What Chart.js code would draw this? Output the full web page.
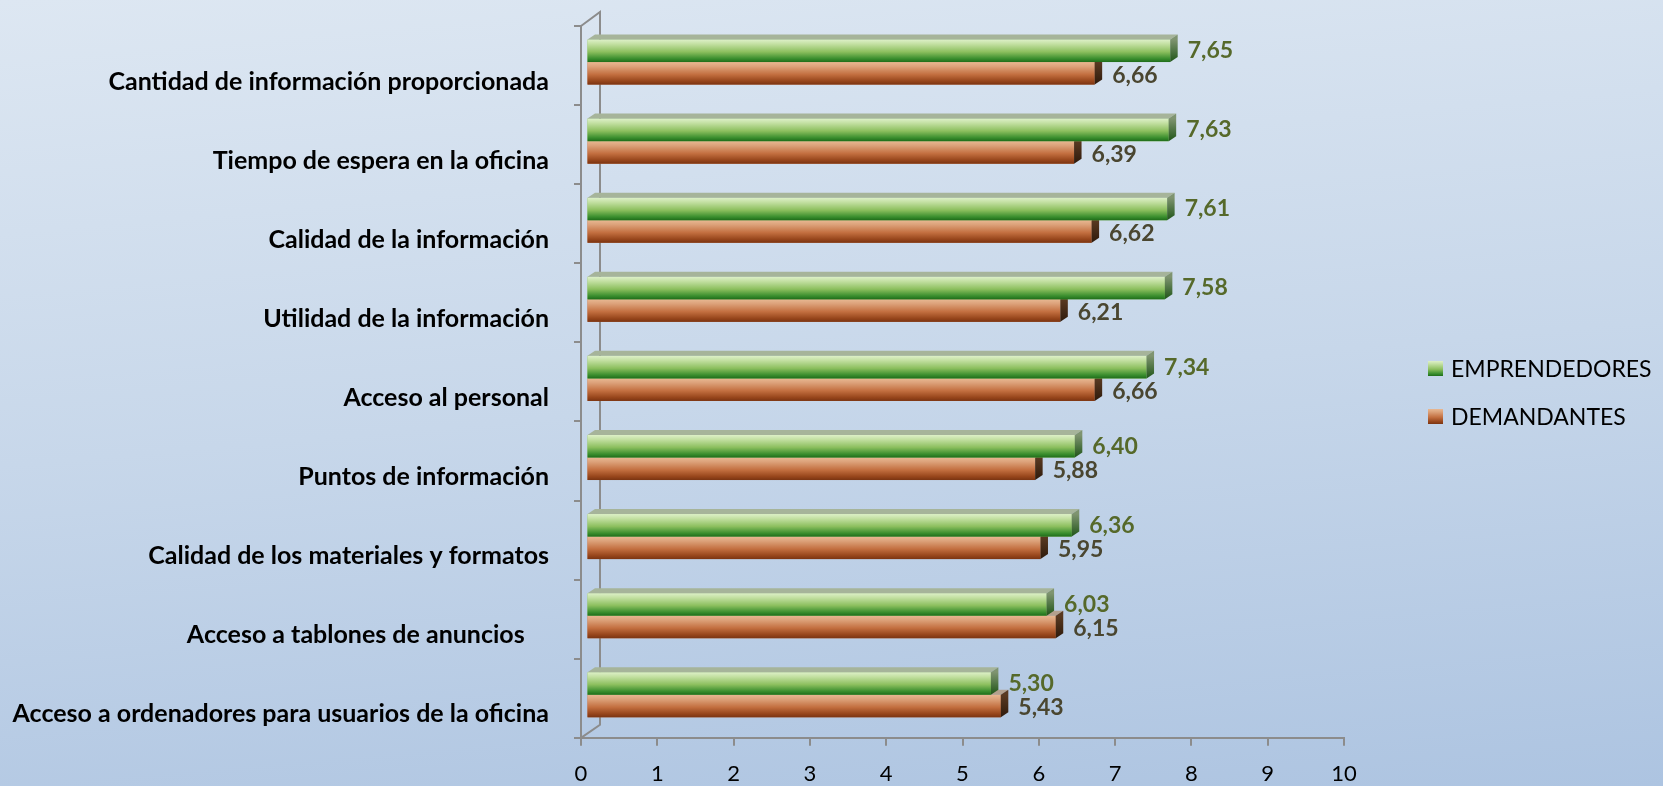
<!DOCTYPE html>
<html>
<head>
<meta charset="utf-8">
<script src="https://cdn.jsdelivr.net/npm/chart.js@4.4.1/dist/chart.umd.min.js"></script>
<style>
    body { margin: 0; }
    #wrap {
        position: relative;
        width: 1663px;
        height: 786px;
        background: linear-gradient(175deg, #dde7f2 0%, #c7d7ea 50%, #adc4e1 100%);
        font-family: Lato, sans-serif;
    }
    .legend-item { position: absolute; left: 1428px; height: 23px; font-size: 23px; line-height: 23px; color: #000; white-space: nowrap; }
    .legend-item .box { position: absolute; left: 0; top: 4px; width: 15px; height: 15px; }
    .legend-item .txt { position: absolute; left: 23px; top: 0; }
</style>
</head>
<body>
<div id="wrap">
    <canvas id="myChart"></canvas>
</div>
<script>
const categories = [
    "Cantidad de información proporcionada",
    "Tiempo de espera en la oficina",
    "Calidad de la información",
    "Utilidad de la información",
    "Acceso al personal",
    "Puntos de información",
    "Calidad de los materiales y formatos",
    "Acceso a tablones de anuncios    ",
    "Acceso a ordenadores para usuarios de la oficina"
];
const emprendedores = [7.65, 7.63, 7.61, 7.58, 7.34, 6.40, 6.36, 6.03, 5.30];
const demandantes = [6.66, 6.39, 6.62, 6.21, 6.66, 5.88, 5.95, 6.15, 5.43];
const seriesNames = ["EMPRENDEDORES", "DEMANDANTES"];

// colours for the fake 3D look
const looks = [
    {
        front: [[0, '#ddf0c8'], [0.2, '#c3e0a2'], [0.55, '#8cbf5e'], [0.85, '#3a8e2e'], [1, '#1f6d1a']],
        top: '#a6b49a',
        side: ['#7f9470', '#1f5518'],
        label: '#56692a'
    },
    {
        front: [[0, '#e8b892'], [0.2, '#dca179'], [0.55, '#c36f40'], [0.85, '#96451b'], [1, '#7a3412']],
        top: '#b3a08e',
        side: ['#5a3a22', '#2e1a0c'],
        label: '#4a4630'
    }
];

const shiftX = 5.5, shiftY = -3.5; // bars sit a bit inside the 3D wall
const depthX = 7.5, depthY = -5;
const axisGrey = '#8c8c8c';

function gradient(ctx, y0, y1, stops) {
    const g = ctx.createLinearGradient(0, y0, 0, y1);
    stops.forEach(s => g.addColorStop(s[0], s[1]));
    return g;
}

const bars3d = {
    id: 'bars3d',
    beforeDatasetsDraw(chart) {
        const ctx = chart.ctx;
        const a = chart.chartArea;
        // back wall of the 3D box
        ctx.save();
        ctx.strokeStyle = axisGrey;
        ctx.lineWidth = 2;
        ctx.beginPath();
        ctx.moveTo(a.left, a.top);
        ctx.lineTo(a.left + 19, a.top - 14);
        ctx.lineTo(a.left + 19, a.bottom - 13);
        ctx.lineTo(a.left, a.bottom);
        ctx.stroke();
        ctx.restore();

        ctx.save();
        ctx.translate(shiftX, shiftY);
    },
    afterDatasetDraw(chart, args) {
        const ctx = chart.ctx;
        const look = looks[args.index];
        args.meta.data.forEach(bar => {
            const top = bar.y - bar.height / 2;
            const bottom = bar.y + bar.height / 2;
            ctx.fillStyle = gradient(ctx, top, bottom, look.front);
            ctx.fillRect(bar.base, top, bar.x - bar.base, bar.height);

            ctx.fillStyle = look.top;
            ctx.beginPath();
            ctx.moveTo(bar.base, top);
            ctx.lineTo(bar.base + depthX, top + depthY);
            ctx.lineTo(bar.x + depthX, top + depthY);
            ctx.lineTo(bar.x, top);
            ctx.closePath();
            ctx.fill();

            ctx.fillStyle = gradient(ctx, top, bottom, [[0, look.side[0]], [1, look.side[1]]]);
            ctx.beginPath();
            ctx.moveTo(bar.x, top);
            ctx.lineTo(bar.x + depthX, top + depthY);
            ctx.lineTo(bar.x + depthX, bottom + depthY);
            ctx.lineTo(bar.x, bottom);
            ctx.closePath();
            ctx.fill();
        });
    },
    afterDatasetsDraw(chart) {
        const ctx = chart.ctx;
        ctx.font = 'bold 23px Lato';
        ctx.textAlign = 'left';
        ctx.textBaseline = 'middle';
        chart.data.datasets.forEach((ds, i) => {
            ctx.fillStyle = looks[i].label;
            chart.getDatasetMeta(i).data.forEach((bar, j) => {
                const txt = ds.data[j].toFixed(2).replace('.', ',');
                ctx.fillText(txt, bar.x + depthX + 10, bar.y + (i === 1 ? 2 : 0));
            });
        });
        ctx.restore();
    }
};

new Chart(document.getElementById('myChart'), {
    type: 'bar',
    data: {
        labels: categories,
        datasets: [
            { label: seriesNames[0], data: emprendedores, backgroundColor: '#8cbf5e', borderWidth: 0 },
            { label: seriesNames[1], data: demandantes, backgroundColor: '#c36f40', borderWidth: 0 }
        ]
    },
    options: {
        indexAxis: 'y',
        responsive: true,
        maintainAspectRatio: false,
        animation: false,
        categoryPercentage: 0.57,
        barPercentage: 1,
        // x ticks reserve padding twice, pull the bottom back
        layout: { padding: { top: 26, right: 319, bottom: -16, left: 0 } },
        plugins: {
            legend: { display: false },
            tooltip: { enabled: false }
        },
        scales: {
            x: {
                min: 0,
                max: 10,
                ticks: { stepSize: 1, padding: 16, color: '#000', font: { family: 'Lato', size: 22, lineHeight: 1.1 } },
                grid: { drawOnChartArea: false, tickLength: 8, color: axisGrey, lineWidth: 2 },
                border: { color: axisGrey, width: 2 }
            },
            y: {
                ticks: { padding: 25, labelOffset: 16, color: '#000', font: { family: 'Lato', size: 25, weight: 'bold' } },
                grid: { offset: true, drawOnChartArea: false, tickLength: 7, color: axisGrey, lineWidth: 2 },
                border: { color: axisGrey, width: 2 },
                afterFit(scale) {
                    scale.width = 581;
                    scale.paddingTop = 0;
                    scale.paddingBottom = 0;
                }
            }
        }
    },
    plugins: [bars3d]
});

// legend
const wrap = document.getElementById('wrap');
seriesNames.forEach((name, i) => {
    const item = document.createElement('div');
    item.className = 'legend-item';
    item.style.top = (357 + i * 47.5) + 'px';
    const stops = looks[i].front.map(s => `${s[1]} ${s[0] * 100}%`).join(', ');
    item.innerHTML = `<span class="box" style="background: linear-gradient(${stops})"></span><span class="txt">${name}</span>`;
    wrap.appendChild(item);
});
</script>
</body>
</html>
